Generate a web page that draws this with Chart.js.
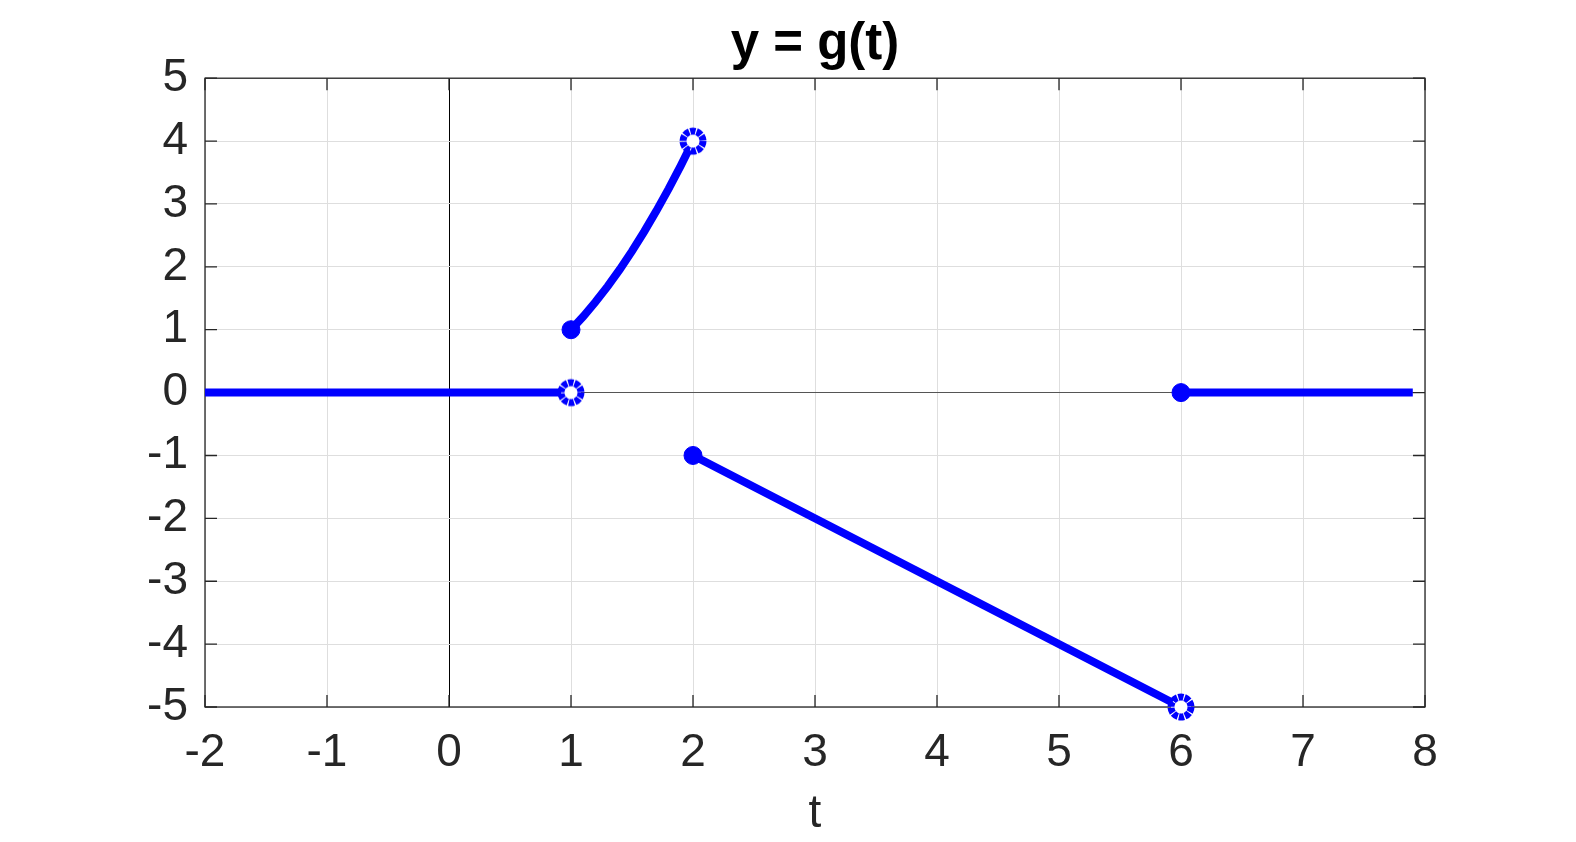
<!DOCTYPE html>
<html>
<head>
<meta charset="utf-8">
<script src="https://cdn.jsdelivr.net/npm/chart.js@4.4.1/dist/chart.umd.min.js"></script>
<style>
html,body{margin:0;padding:0;background:#fff;}
#wrap{width:1576px;height:842px;}
</style>
</head>
<body>
<div id="wrap"><canvas id="c" width="1576" height="842"></canvas></div>
<script>
// ---- data ----
const xTicks = [-2,-1,0,1,2,3,4,5,6,7,8];
const yTicks = [-5,-4,-3,-2,-1,0,1,2,3,4,5];
const seg1T = [-2, 1];
const seg1Y = [0, 0];
const curveT = [1, 1.1, 1.2, 1.3, 1.4, 1.5, 1.6, 1.7, 1.8, 1.9, 2];
const curveY = [1, 1.21, 1.44, 1.69, 1.96, 2.25, 2.56, 2.89, 3.24, 3.61, 4];
const seg2T = [2, 6];
const seg2Y = [-1, -5];
const seg3T = [6, 7.9];
const seg3Y = [0, 0];
const closedT = [1, 2, 6];
const closedY = [1, -1, 0];
const openT = [1, 2, 6];
const openY = [0, 4, -5];

const BLUE = '#0000ff';
const AXC = '#262626';
const FONT = '"Liberation Sans", Arial, Helvetica, sans-serif';

function pts(xs, ys){ return xs.map((x,i)=>({x:x, y:ys[i]})); }

// open-circle marker style (dashed ring)
const ring = document.createElement('canvas');
ring.width = 32; ring.height = 32;
(function(){
  const g = ring.getContext('2d');
  g.beginPath(); g.arc(16,16,10,0,Math.PI*2);
  g.fillStyle = '#fff'; g.fill();
  g.setLineDash([5.2, 1.1]);
  g.lineWidth = 7; g.strokeStyle = BLUE; g.stroke();
})();

const lineDs = (xs, ys) => ({
  data: pts(xs, ys), borderColor: BLUE, borderWidth: 8, pointRadius: 0,
  showLine: true, fill: false, tension: 0, order: 3, clip: false
});

const boxPlugin = {
  id: 'boxTicks',
  beforeDatasetsDraw(chart){
    const {ctx, chartArea: a, scales} = chart;
    ctx.save();
    ctx.strokeStyle = AXC; ctx.lineWidth = 1.3;
    ctx.strokeRect(a.left, a.top, a.right - a.left, a.bottom - a.top);
    const L = 12;
    ctx.beginPath();
    xTicks.forEach(v => {
      const px = scales.x.getPixelForValue(v);
      ctx.moveTo(px, a.bottom); ctx.lineTo(px, a.bottom - L);
      ctx.moveTo(px, a.top); ctx.lineTo(px, a.top + L);
    });
    yTicks.forEach(v => {
      const py = scales.y.getPixelForValue(v);
      ctx.moveTo(a.left, py); ctx.lineTo(a.left + L, py);
      ctx.moveTo(a.right, py); ctx.lineTo(a.right - L, py);
    });
    ctx.stroke();
    ctx.restore();
  }
};

new Chart(document.getElementById('c'), {
  type: 'scatter',
  data: {
    datasets: [
      lineDs(seg1T, seg1Y),
      lineDs(curveT, curveY),
      lineDs(seg2T, seg2Y),
      lineDs(seg3T, seg3Y),
      { data: pts(closedT, closedY), backgroundColor: BLUE, borderColor: BLUE,
        pointRadius: 9, pointBorderWidth: 1, showLine: false, order: 1, clip: false },
      { data: pts(openT, openY), pointStyle: ring, pointRadius: 16,
        showLine: false, order: 0, clip: false }
    ]
  },
  options: {
    responsive: false,
    animation: false,
    events: [],
    layout: { padding: { left: 0, right: 151, top: 0, bottom: 0 } },
    plugins: {
      legend: { display: false },
      tooltip: { enabled: false },
      title: {
        display: true, text: 'y = g(t)', color: '#000', fullSize: false,
        font: { family: FONT, size: 51, weight: 'bold' },
        padding: { top: 14, bottom: 3 }
      }
    },
    scales: {
      x: {
        type: 'linear', min: -2, max: 8,
        afterBuildTicks(s){ s.ticks = xTicks.map(v => ({value: v})); },
        afterFit(s){ s.height = 135; },
        ticks: { color: AXC, font: { family: FONT, size: 46 }, padding: 19,
                 callback: v => String(v) },
        grid: {
          drawTicks: false,
          color: c => c.tick && c.tick.value === 0 ? '#000' : '#dedede',
          lineWidth: 1
        },
        border: { display: false },
        title: { display: true, text: 't', color: AXC,
                 font: { family: FONT, size: 46 }, padding: { top: 0, bottom: 0 } }
      },
      y: {
        type: 'linear', min: -5, max: 5,
        afterBuildTicks(s){ s.ticks = yTicks.map(v => ({value: v})); },
        afterFit(s){ s.width = 205; },
        ticks: { color: AXC, font: { family: FONT, size: 46 }, padding: 17,
                 callback: v => String(v) },
        grid: {
          drawTicks: false,
          color: c => c.tick && c.tick.value === 0 ? '#555' : '#dedede',
          lineWidth: 1
        },
        border: { display: false }
      }
    }
  },
  plugins: [boxPlugin]
});
</script>
</body>
</html>
